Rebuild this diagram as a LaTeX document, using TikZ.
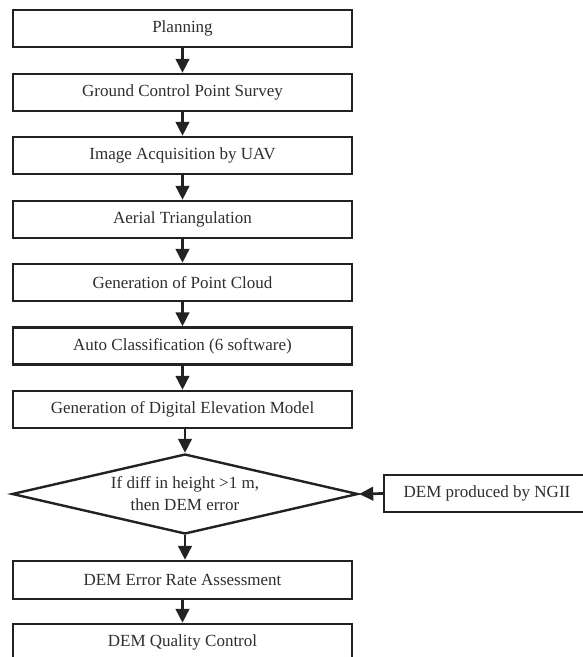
\documentclass[tikz,border=0pt]{standalone}
\usepackage{fontspec}
\setmainfont{Liberation Serif}
\usetikzlibrary{arrows.meta,shapes.geometric,calc}
\definecolor{linec}{HTML}{222222}
\definecolor{textc}{HTML}{2E2E2E}
\begin{document}
\begin{tikzpicture}[x=1pt,y=-1pt,
  font=\fontsize{17pt}{22pt}\selectfont,
  stepbox/.style={draw=linec,line width=2.4pt,text=textc,minimum width=339pt,minimum height=37pt,inner sep=0pt,anchor=center},
  decision/.style={draw=linec,line width=2.4pt,text=textc,diamond,aspect=4.3,inner sep=0pt,minimum width=346pt,minimum height=80pt,align=center},
  arr/.style={draw=linec,line width=2.7pt,-{Triangle[length=14pt,width=13.5pt]}}]
\useasboundingbox (0,0) rectangle (582,657);
\fill[white] (0,0) rectangle (582,657);
\node[stepbox] (plan) at (182.5,28.5) {Planning};
\node[stepbox] (gcp) at (182.5,92.5) {Ground Control Point Survey};
\node[stepbox] (ia) at (182.5,155.5) {Image Acquisition by UAV};
\node[stepbox] (at) at (182.5,219.5) {Aerial Triangulation};
\node[stepbox] (pc) at (182.5,282.5) {Generation of Point Cloud};
\node[stepbox] (ac) at (182.5,346) {Auto Classification (6 software)};
\node[stepbox] (dem) at (182.5,409.5) {Generation of Digital Elevation Model};
\node[decision] (dia) at (185,494) {If diff in height >1 m,\\then DEM error};
\node[stepbox,minimum height=38pt] (er) at (182.5,580) {DEM Error Rate Assessment};
\node[stepbox] (qc) at (182.5,642.5) {DEM Quality Control};
\node[stepbox,minimum width=206pt] (ngii) at (487,493.5) {DEM produced by NGII};
\draw[arr] (plan.south -| gcp.north) -- (gcp.north);
\draw[arr] (gcp.south) -- (ia.north);
\draw[arr] (ia.south) -- (at.north);
\draw[arr] (at.south) -- (pc.north);
\draw[arr] (pc.south) -- (ac.north);
\draw[arr] (ac.south) -- (dem.north);
\draw[arr] (dem.south -| dia.north) -- (dia.north);
\draw[arr] (dia.south) -- (dia.south |- er.north);
\draw[arr] (er.south) -- (qc.north);
\draw[arr] (ngii.west) -- (dia.east);
\end{tikzpicture}
\end{document}
